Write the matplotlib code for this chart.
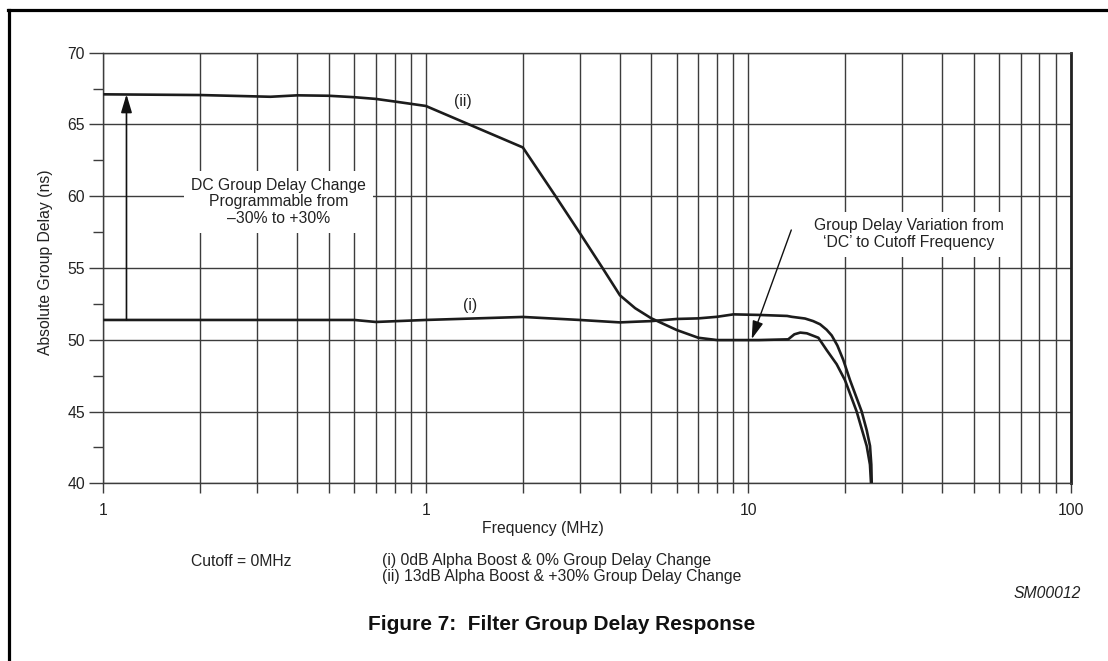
import matplotlib
matplotlib.use("Agg")
import matplotlib.pyplot as plt
from matplotlib.lines import Line2D
from matplotlib.ticker import FixedLocator, NullFormatter, FixedFormatter

plt.rcParams['font.family'] = ['Liberation Sans', 'DejaVu Sans']

# ---- data ----
freq_i = [0.1, 0.3, 0.6, 0.7, 1.0, 2.0, 3.0, 4.0, 4.5, 5.0, 6.0, 7.0, 8.0, 9.0,
          10.8, 13.2, 13.64, 15.0, 15.9, 16.7, 17.5, 18.15, 18.9, 19.71, 20.69,
          22.48, 23.3, 23.86, 24.08, 24.15]
delay_i = [51.38, 51.38, 51.38, 51.24, 51.38, 51.59, 51.38, 51.21, 51.26, 51.3, 51.45,
           51.49, 51.6, 51.77, 51.73, 51.66, 51.6, 51.48, 51.3, 51.08, 50.7, 50.3,
           49.6, 48.6, 47.18, 45.0, 43.7, 42.6, 41.3, 40.0]

freq_ii = [0.1, 0.2, 0.33, 0.4, 0.5, 0.6, 0.7, 0.8, 1.0, 2.0, 2.52, 3.0, 3.51, 4.0,
           4.46, 5.0, 6.0, 7.0, 8.0, 10.8, 13.3, 13.9, 14.5, 15.2, 16.5, 17.51,
           18.8, 19.96, 21.69, 23.3, 23.85, 24.03]
delay_ii = [67.1, 67.05, 66.93, 67.03, 67.0, 66.9, 66.78, 66.6, 66.29, 63.4, 60.04,
            57.46, 55.1, 53.1, 52.2, 51.5, 50.68, 50.14, 49.98, 49.98, 50.03, 50.38,
            50.5, 50.45, 50.14, 49.28, 48.3, 47.18, 45.0, 42.6, 41.3, 40.0]

x_tick_vals = [0.1, 1, 10, 100]
x_tick_labels = ["1", "1", "10", "100"]
y_tick_vals = [40, 45, 50, 55, 60, 65, 70]
y_minor_vals = [42.5, 47.5, 52.5, 57.5, 62.5, 67.5]

W, H = 1108, 661
fig = plt.figure(figsize=(W / 100, H / 100), dpi=100)
fig.patch.set_facecolor('white')

def fx(px):
    return px / W

def fy(py):
    return 1 - py / H

FS = 11.3
txtc = '#222222'

ax_l, ax_r, ax_t, ax_b = 103.3, 1070.7, 52.7, 483.3
ax = fig.add_axes([fx(ax_l), fy(ax_b), (ax_r - ax_l) / W, (ax_b - ax_t) / H])
ax.set_xscale('log')
ax.set_xlim(0.1, 100)
ax.set_ylim(40, 70)

gridc = '#3c3c3c'
minor_x = [m * 10.0 ** e for e in (-1, 0, 1) for m in range(2, 10)]
ax.xaxis.set_major_locator(FixedLocator(x_tick_vals))
ax.xaxis.set_major_formatter(FixedFormatter(x_tick_labels))
ax.xaxis.set_minor_locator(FixedLocator(minor_x))
ax.xaxis.set_minor_formatter(NullFormatter())
ax.yaxis.set_major_locator(FixedLocator(y_tick_vals))
ax.yaxis.set_minor_locator(FixedLocator(y_minor_vals))

ax.grid(True, which='major', axis='both', color=gridc, lw=1.0)
ax.grid(True, which='minor', axis='x', color=gridc, lw=1.0)
ax.set_axisbelow(True)

ax.tick_params(axis='x', which='both', direction='out', length=7, width=1,
               color=gridc, labelsize=FS, pad=7, labelcolor=txtc)
ax.tick_params(axis='y', which='major', direction='out', length=10, width=1,
               color=gridc, labelsize=FS, pad=3, labelcolor=txtc)
ax.tick_params(axis='y', which='minor', direction='out', length=7, width=1,
               color=gridc)
for s in ax.spines.values():
    s.set_color(gridc)
    s.set_linewidth(1.0)
ax.spines['right'].set_color('#222222')
ax.spines['right'].set_linewidth(2.0)

curve_c = '#1c1c1c'
ax.plot(freq_i, delay_i, color=curve_c, lw=1.9, solid_capstyle='butt',
        solid_joinstyle='round', zorder=5)
ax.plot(freq_ii, delay_ii, color=curve_c, lw=1.9, solid_capstyle='butt',
        solid_joinstyle='round', zorder=5)

# curve labels
ax.text(1.3, 66.6, "(ii)", fontsize=FS, ha='center', va='center', color=txtc)
ax.text(1.37, 52.42, "(i)", fontsize=FS, ha='center', va='center', color=txtc)

# DC arrow
ax.annotate('', xy=(0.118, 67.1), xytext=(0.118, 51.38),
            arrowprops=dict(arrowstyle='-|>,head_length=1.1,head_width=0.33',
                            color='#111111', lw=1.2, shrinkA=0, shrinkB=0,
                            mutation_scale=10), zorder=6)
ax.text(0.35, 59.6, "DC Group Delay Change\nProgrammable from\n\u201330% to +30%",
        fontsize=FS, ha='center', va='center', color=txtc, linespacing=1.12,
        bbox=dict(facecolor='white', edgecolor='none', pad=5), zorder=7)

# variation arrow
ax.annotate('', xy=(10.25, 50.05), xytext=(13.6, 57.65),
            arrowprops=dict(arrowstyle='-|>,head_length=1.1,head_width=0.33',
                            color='#111111', lw=1.0, shrinkA=0, shrinkB=0,
                            mutation_scale=10), zorder=6)
ax.text(31.5, 57.36, "Group Delay Variation from\n\u2018DC\u2019 to Cutoff Frequency",
        fontsize=FS, ha='center', va='center', color=txtc, linespacing=1.12,
        bbox=dict(facecolor='white', edgecolor='none', pad=5), zorder=7)

# axis labels (figure coordinates)
fig.text(fx(543), fy(529), "Frequency (MHz)", fontsize=FS, ha='center', va='center',
         color=txtc)
fig.text(fx(46), fy(262), "Absolute Group Delay (ns)", fontsize=FS, ha='center',
         va='center', rotation=90, color=txtc)

fig.text(fx(191), fy(561), "Cutoff = 0MHz", fontsize=FS, ha='left', va='center',
         color=txtc)
fig.text(fx(382), fy(561), "(i) 0dB Alpha Boost & 0% Group Delay Change", fontsize=FS,
         ha='left', va='center', color=txtc)
fig.text(fx(382), fy(577), "(ii) 13dB Alpha Boost & +30% Group Delay Change", fontsize=FS,
         ha='left', va='center', color=txtc)
fig.text(fx(1080.7), fy(593), "SM00012", fontsize=FS, ha='right', va='center',
         style='italic', color=txtc)
fig.text(fx(561.5), fy(625), "Figure 7:  Filter Group Delay Response", fontsize=15,
         ha='center', va='center', weight='bold', color='#111111')

# page border (top and left)
fig.add_artist(Line2D([fx(8), 1.0], [fy(9.5), fy(9.5)], color='black', lw=2.3))
fig.add_artist(Line2D([fx(8.5), fx(8.5)], [0, fy(9.5)], color='black', lw=2.3))

fig.savefig("out.png", dpi=100, facecolor='white')
